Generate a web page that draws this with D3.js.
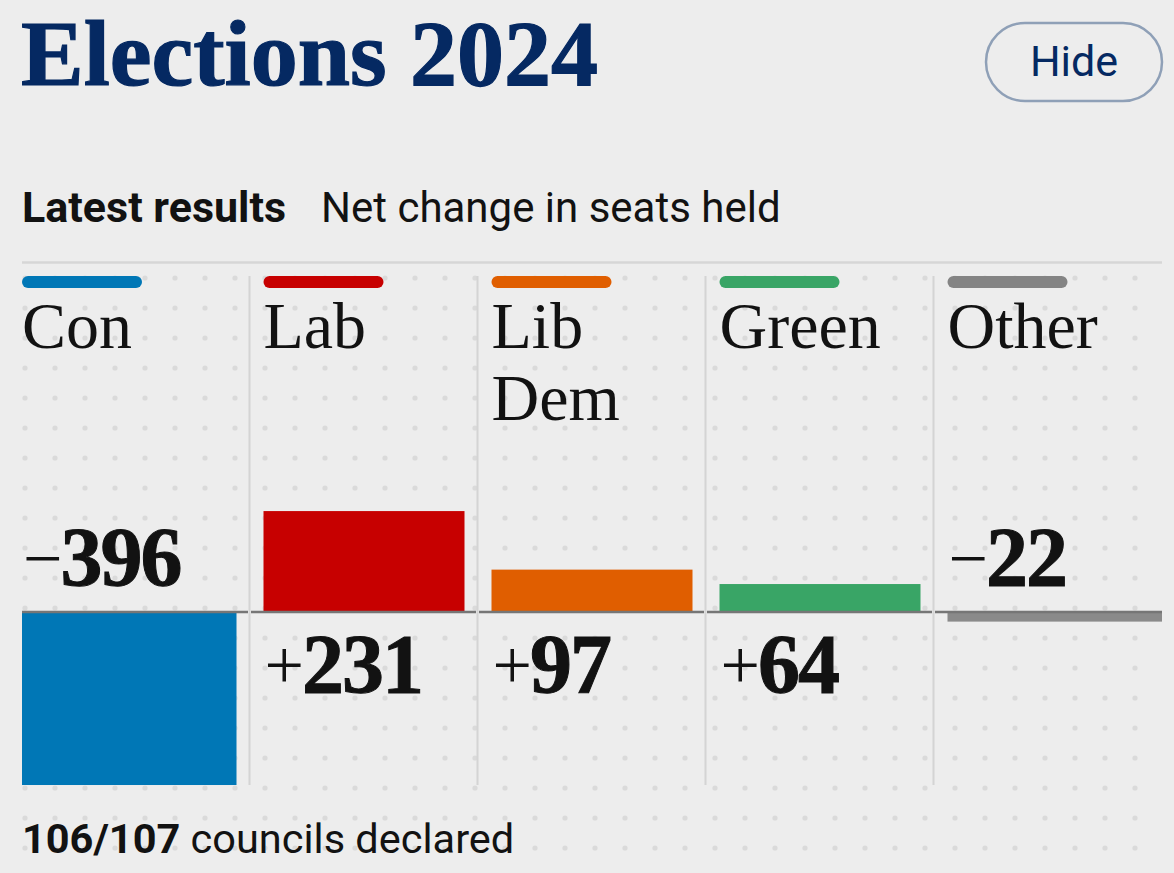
<!DOCTYPE html>
<html>
<head>
<meta charset="utf-8">
<script src="https://cdn.jsdelivr.net/npm/d3@7"></script>
<style>
  html, body { margin: 0; padding: 0; background: #ededed; }
  svg { display: block; }
</style>
</head>
<body>
<svg id="chart" width="1174" height="873"></svg>
<script>
// ---- data ----
const parties = ["Con", "Lab", "Lib Dem", "Green", "Other"];
const netChange = [-396, 231, 97, 64, -22];
const partyColors = ["#0077b6", "#c70000", "#e05e00", "#39a566", "#848484"];
const title = "Elections 2024";
const buttonLabel = "Hide";
const subtitleBold = "Latest results";
const subtitle = "Net change in seats held";
const footerBold = "106/107";
const footer = "councils declared";

const W = 1174, H = 873;
const svg = d3.select("#chart");
svg.append("rect").attr("width", W).attr("height", H).attr("fill", "#ededed");

const serif = "'Liberation Serif', 'Times New Roman', serif";
const sans = "Roboto, 'Liberation Sans', sans-serif";
const ink = "#121212";

// ---- scales ----
const x = d3.scaleBand().domain(parties).range([22, 1162]).paddingInner(0).paddingOuter(0);
const bw = x.bandwidth();
const pad = 13.5;
const colLeft = (p, i) => x(p) + (i > 0 ? pad : 0);
const colRight = (p, i) => x(p) + bw - (i < parties.length - 1 ? pad : 0);

const zeroY = 612;
const pxPerSeat = 0.4369;
const y = d3.scaleLinear()
  .domain([d3.min(netChange), d3.max(netChange)])
  .range([zeroY - d3.min(netChange) * pxPerSeat, zeroY - d3.max(netChange) * pxPerSeat]);

// ---- dot grid ----
const dotXs = d3.range(25, 1140, 30);
const dotYs = d3.range(278, 860, 30);
const dots = svg.append("g");
dotYs.forEach(dy => dotXs.forEach(dx => {
  dots.append("circle").attr("cx", dx).attr("cy", dy).attr("r", 2.6).attr("fill", "#dadada");
}));

// ---- header ----
svg.append("text").attr("x", 21).attr("y", 85)
  .attr("font-family", serif).attr("font-weight", 700).attr("font-size", 94)
  .attr("fill", "#052962").attr("stroke", "#052962").attr("stroke-width", 1.2)
  .text(title);

svg.append("rect").attr("x", 986).attr("y", 23).attr("width", 176).attr("height", 78)
  .attr("rx", 39).attr("fill", "none").attr("stroke", "#8fa0b7").attr("stroke-width", 2.5);
svg.append("text").attr("x", 1074).attr("y", 76).attr("text-anchor", "middle")
  .attr("font-family", sans).attr("font-size", 43).attr("fill", "#052962").text(buttonLabel);

const sub = svg.append("text").attr("x", 22).attr("y", 222)
  .attr("font-family", sans).attr("font-size", 42).attr("fill", ink);
sub.append("tspan").attr("font-weight", 700).attr("font-size", 43).text(subtitleBold);
sub.append("tspan").attr("x", 321).text(subtitle);

svg.append("line").attr("x1", 22).attr("x2", 1162).attr("y1", 262.5).attr("y2", 262.5)
  .attr("stroke", "#d6d6d6").attr("stroke-width", 2.5);

// ---- columns ----
const cols = svg.append("g").selectAll("g").data(parties).join("g");

// separators
cols.filter((d, i) => i > 0).append("line")
  .attr("x1", d => x(d) - 0.5).attr("x2", d => x(d) - 0.5)
  .attr("y1", 276).attr("y2", 785)
  .attr("stroke", "#d4d4d4").attr("stroke-width", 2);

// colour strips
cols.append("rect")
  .attr("x", (d, i) => colLeft(d, i)).attr("y", 276)
  .attr("width", 120).attr("height", 12).attr("rx", 6)
  .attr("fill", (d, i) => partyColors[i]);

// party names (wrapped)
cols.each(function(d, i) {
  const g = d3.select(this);
  const maxW = colRight(d, i) - colLeft(d, i);
  const t = g.append("text").attr("font-family", serif).attr("font-size", 66).attr("fill", ink);
  const words = d.split(" ");
  let line = [];
  let lineNo = 0;
  let ts = t.append("tspan").attr("x", colLeft(d, i)).attr("y", 348);
  words.forEach(w => {
    line.push(w);
    ts.text(line.join(" "));
    if (ts.node().getComputedTextLength() > maxW && line.length > 1) {
      line.pop();
      ts.text(line.join(" "));
      line = [w];
      lineNo++;
      ts = t.append("tspan").attr("x", colLeft(d, i)).attr("y", 348 + lineNo * 72).text(w);
    }
  });
});

// bars
cols.append("rect")
  .attr("x", (d, i) => colLeft(d, i))
  .attr("width", (d, i) => colRight(d, i) - colLeft(d, i))
  .attr("y", (d, i) => Math.min(y(netChange[i]), y(0)))
  .attr("height", (d, i) => Math.abs(y(netChange[i]) - y(0)))
  .attr("fill", (d, i) => i === 4 ? "#8a8a8a" : partyColors[i]);

// baseline per column
cols.append("line")
  .attr("x1", (d, i) => i === 0 ? x(d) : x(d) + 1)
  .attr("x2", (d, i) => i === parties.length - 1 ? x(d) + bw : x(d) + bw - 2)
  .attr("y1", y(0)).attr("y2", y(0))
  .attr("stroke", "#767676").attr("stroke-width", 2.5);

// value labels
cols.each(function(d, i) {
  const v = netChange[i];
  const g = d3.select(this);
  const t = g.append("text")
    .attr("x", colLeft(d, i) + 1)
    .attr("y", v >= 0 ? y(0) + 81 : y(0) - 26)
    .attr("font-family", serif).attr("fill", ink);
  t.append("tspan").attr("font-size", 70).attr("font-weight", 400).attr("dy", -4)
    .text(v >= 0 ? "+" : "\u2212");
  t.append("tspan").attr("font-size", 84).attr("font-weight", 700).attr("dy", 4)
    .attr("dx", -2).attr("letter-spacing", -2)
    .attr("stroke", ink).attr("stroke-width", 1)
    .text(Math.abs(v));
});

// ---- footer ----
const foot = svg.append("text").attr("x", 22).attr("y", 853)
  .attr("font-family", sans).attr("font-size", 41.5).attr("fill", ink);
foot.append("tspan").attr("font-weight", 700).text(footerBold);
foot.append("tspan").text(" " + footer);
</script>
</body>
</html>
